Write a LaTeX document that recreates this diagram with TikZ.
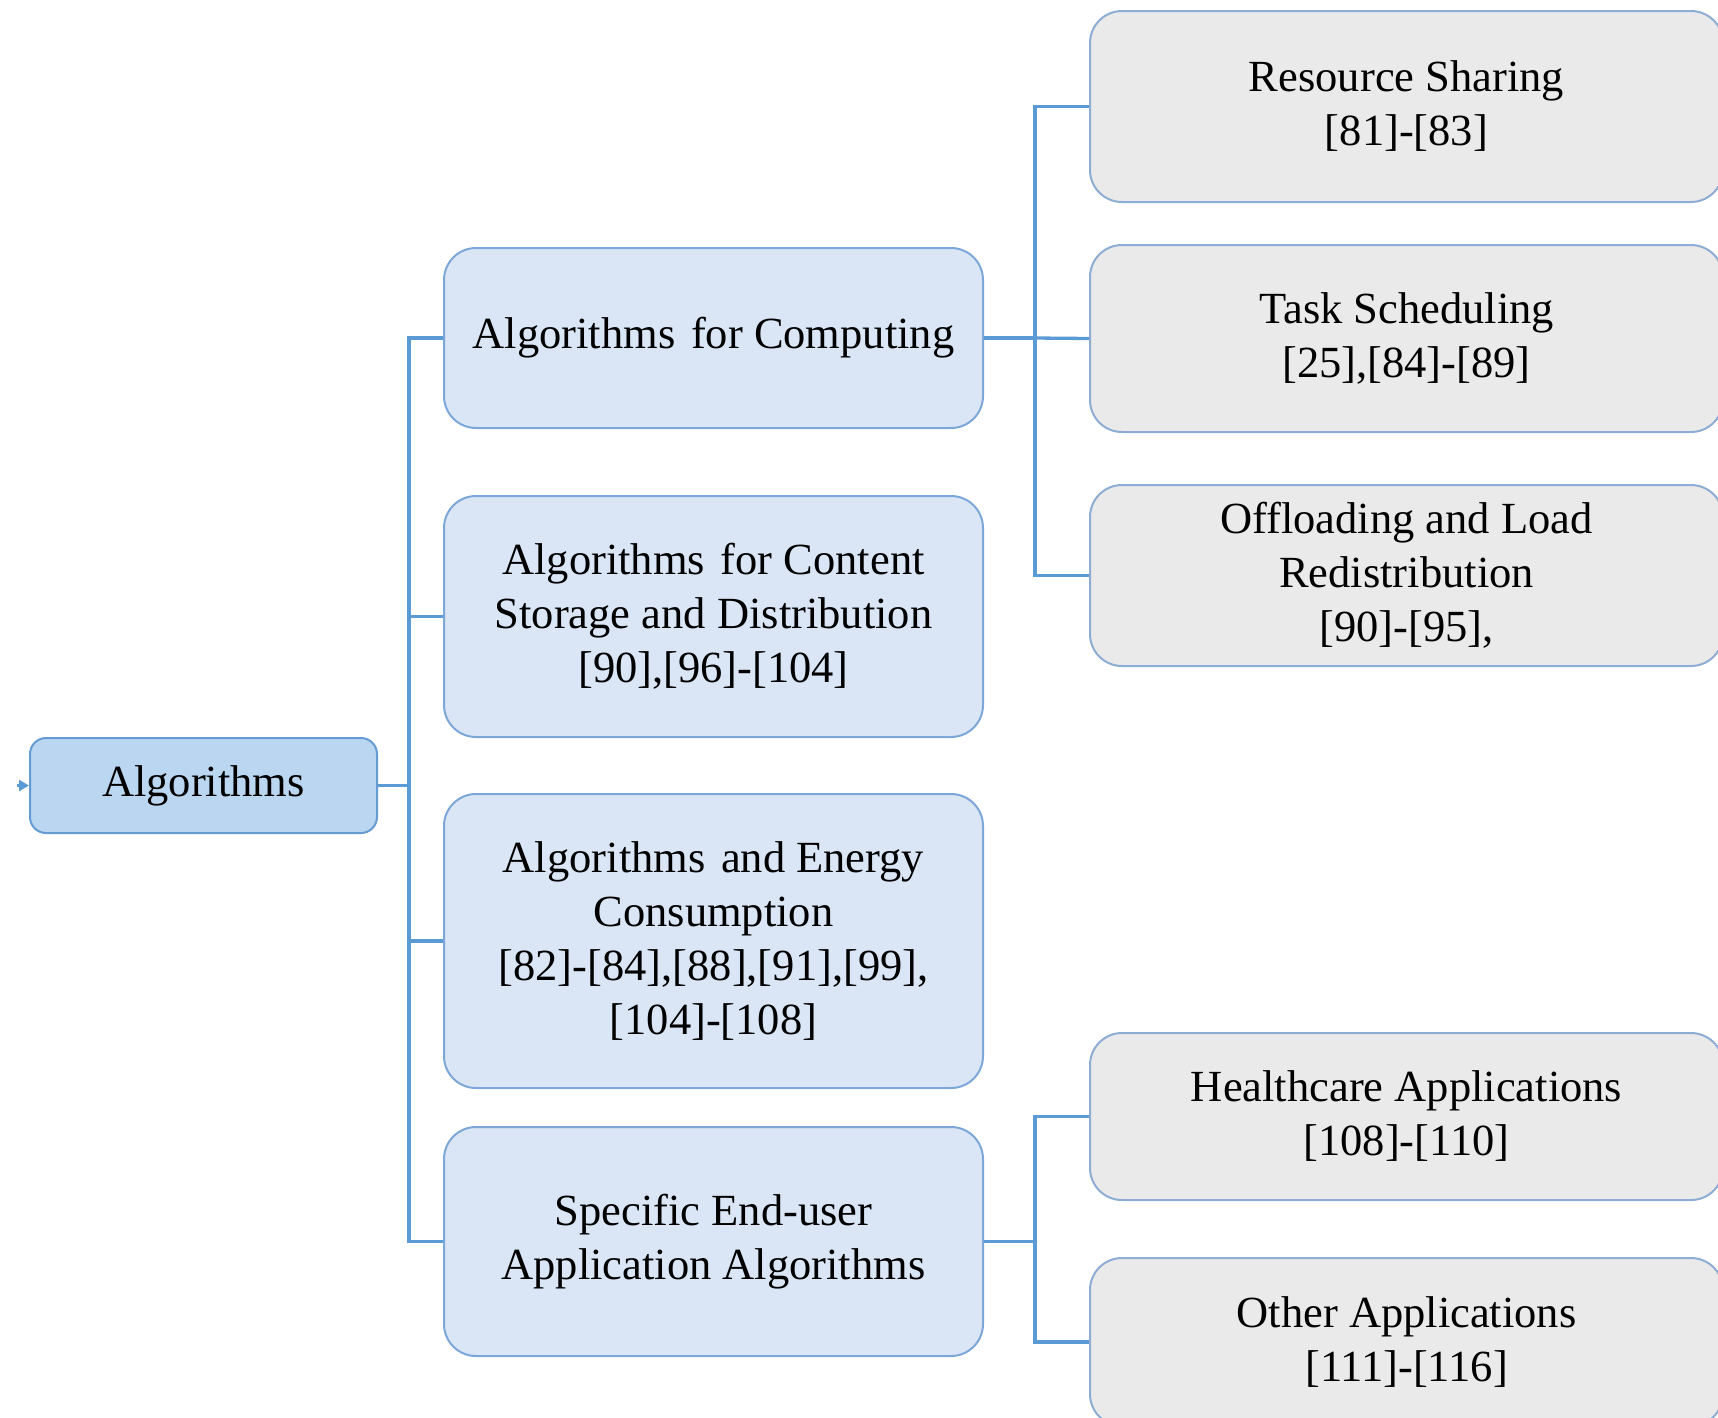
\documentclass[tikz,border=0pt]{standalone}
\usepackage{fontspec}
\setmainfont{Liberation Serif}
\usetikzlibrary{arrows.meta}
\definecolor{linkblue}{RGB}{91,155,213}
\definecolor{rootfill}{RGB}{186,214,240}
\definecolor{rootedge}{RGB}{100,155,210}
\definecolor{catfill}{RGB}{218,230,245}
\definecolor{catedge}{RGB}{125,167,217}
\definecolor{subfill}{RGB}{234,234,234}
\definecolor{subedge}{RGB}{142,173,213}
\tikzset{
  boxtext/.style={align=center, font=\fontsize{44.5}{54}\selectfont, text=black, inner sep=0pt},
  rootbox/.style={boxtext, draw=rootedge, fill=rootfill, line width=2pt, rounded corners=16pt,
                  minimum width=347pt, minimum height=95pt},
  catbox/.style={boxtext, draw=catedge, fill=catfill, line width=2pt, rounded corners=32pt,
                 minimum width=539pt},
  subbox/.style={boxtext, draw=subedge, fill=subfill, line width=2pt, rounded corners=32pt,
                 minimum width=633pt},
  link/.style={draw=linkblue, line width=3.3pt},
}
\newcommand{\widegap}{\hspace{0.35em}}
\begin{document}
\begin{tikzpicture}[x=1pt, y=-1pt]
\useasboundingbox (0,0) rectangle (1718,1417);

% root
\node[rootbox] (alg) at (203.5,785.5) {Algorithms};

% first level
\node[catbox, minimum height=180pt] (comp) at (713.5,338) {Algorithms\widegap for Computing};
\node[catbox, minimum height=241pt] (stor) at (713.5,616.5) {Algorithms\widegap for Content\\Storage and Distribution\\{[90]},[96]-[104]};
\node[catbox, minimum height=294pt] (ener) at (713.5,941) {Algorithms\widegap and Energy\\Consumption\\{[82]}-[84],[88],[91],[99],\\{[104]}-[108]};
\node[catbox, minimum height=229pt] (user) at (713.5,1241.5) {Specific End-user\\Application Algorithms};

% second level
\node[subbox, minimum height=191pt] (share) at (1406.5,106.5) {Resource Sharing\\{[81]}-[83]};
\node[subbox, minimum height=187pt] (sched) at (1406.5,338.5) {Task Scheduling\\{[25]},[84]-[89]};
\node[subbox, minimum height=181pt] (offl) at (1406.5,575.5) {Offloading and Load\\Redistribution\\{[90]}-[95],};
\node[subbox, minimum height=167pt] (health) at (1406.5,1116.5) {Healthcare Applications\\{[108]}-[110]};
\node[subbox, minimum height=168pt] (other) at (1406.5,1342) {Other Applications\\{[111]}-[116]};

% bus positions
\coordinate (busA) at (409,0);
\coordinate (busB) at (1035,0);
\coordinate (feed) at (17,785.5);

% incoming tip on the root
\draw[link, -{Triangle[width=11pt,length=10pt]}] (feed) -- (alg.west);

% root to first level
\draw[link] (alg.east) -- (alg.east -| busA) |- (comp.west);
\draw[link] (alg.east -| busA) |- (stor.west);
\draw[link] (alg.east -| busA) |- (ener.west);
\draw[link] (alg.east -| busA) |- (user.west);

% computing branch
\draw[link] (comp.east) -- (comp.east -| busB) |- (share.west);
\draw[link] (comp.east -| busB) -- (sched.west);
\draw[link] (comp.east -| busB) |- (offl.west);

% end-user branch
\draw[link] (user.east) -- (user.east -| busB) |- (health.west);
\draw[link] (user.east -| busB) |- (other.west);
\end{tikzpicture}
\end{document}
